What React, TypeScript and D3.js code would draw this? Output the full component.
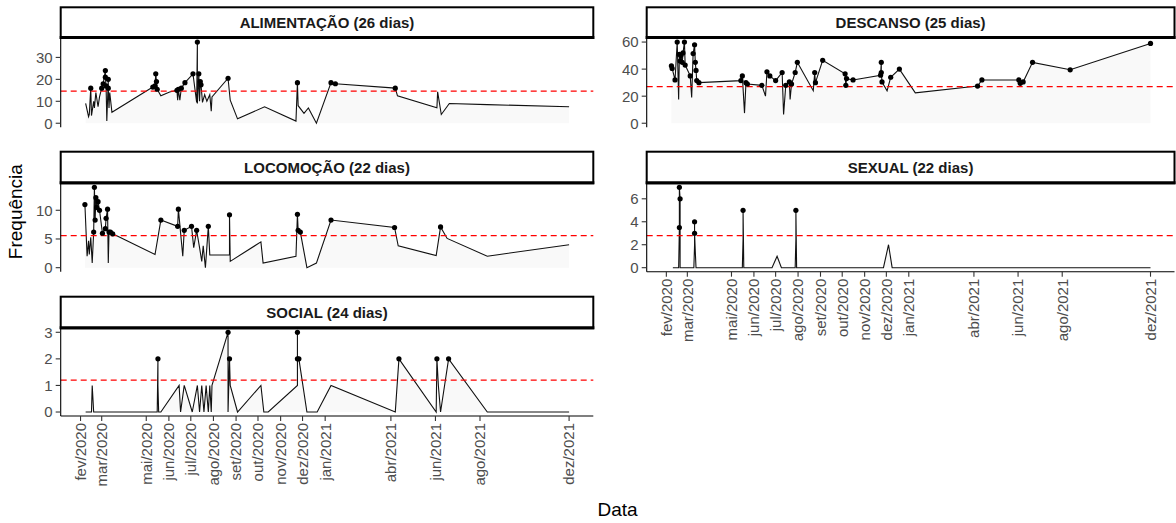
import React from "react";
import * as d3 from "d3";

const tickDates = ["2020-02-01","2020-03-01","2020-05-01","2020-06-01","2020-07-01","2020-08-01","2020-09-01","2020-10-01","2020-11-01","2020-12-01","2021-01-01","2021-04-01","2021-06-01","2021-08-01","2021-12-01"];
const tickLabels = ["fev/2020","mar/2020","mai/2020","jun/2020","jul/2020","ago/2020","set/2020","out/2020","nov/2020","dez/2020","jan/2021","abr/2021","jun/2021","ago/2021","dez/2021"];

const panelTitles = ["ALIMENTAÇÃO (26 dias)","DESCANSO (25 dias)","LOCOMOÇÃO (22 dias)","SEXUAL (22 dias)","SOCIAL (24 dias)"];
const panelMeans = [14.6, 27, 5.6, 2.8, 1.2];
const yTicksAlim = [0, 10, 20, 30];
const yTicksDesc = [0, 20, 40, 60];
const yTicksLoco = [0, 5, 10];
const yTicksSex = [0, 2, 4, 6];
const yTicksSoc = [0, 1, 2, 3];

const alimDates = ["2020-02-08","2020-02-12","2020-02-13","2020-02-15","2020-02-16","2020-02-19","2020-02-20","2020-02-22","2020-02-25","2020-02-27","2020-03-01","2020-03-03","2020-03-06","2020-03-06","2020-03-07","2020-03-08","2020-03-10","2020-03-10","2020-03-11","2020-03-12","2020-03-15","2020-05-10","2020-05-13","2020-05-14","2020-05-15","2020-05-16","2020-05-21","2020-06-02","2020-06-12","2020-06-13","2020-06-14","2020-06-16","2020-06-18","2020-06-23","2020-07-04","2020-07-09","2020-07-10","2020-07-10","2020-07-12","2020-07-13","2020-07-14","2020-07-15","2020-07-17","2020-07-20","2020-07-23","2020-07-27","2020-07-29","2020-07-30","2020-08-21","2020-08-24","2020-09-03","2020-10-10","2020-11-22","2020-11-24","2020-11-25","2020-12-03","2020-12-09","2020-12-20","2021-01-09","2021-01-15","2021-04-07","2021-04-10","2021-06-03","2021-06-04","2021-06-09","2021-06-20","2021-08-11","2021-12-01"];
const alimValues = [9,3,4,16,3.5,10,7,14,7.5,12,16,18,24,21,17,1,20,16,7,14,5,16.5,17,22.5,19,15.5,12.5,14.2,15,10.5,15.5,10.5,16,18.5,22.5,9.5,37,9,22.5,10,19,17.5,9.5,13,10,13,5.5,12,20.5,10.5,2,7.5,1,18.5,8,4.5,7,0,18.5,18,16,12.5,7,14.3,4,9,8.5,7.5];

const descDates = ["2020-02-08","2020-02-09","2020-02-13","2020-02-16","2020-02-18","2020-02-19","2020-02-20","2020-02-21","2020-02-23","2020-02-24","2020-02-26","2020-02-27","2020-03-05","2020-03-07","2020-03-09","2020-03-11","2020-03-12","2020-03-13","2020-03-14","2020-03-17","2020-05-14","2020-05-16","2020-05-19","2020-05-21","2020-05-23","2020-06-12","2020-06-17","2020-06-19","2020-06-23","2020-07-01","2020-07-10","2020-07-12","2020-07-15","2020-07-20","2020-07-21","2020-07-23","2020-07-28","2020-07-31","2020-08-22","2020-08-24","2020-08-25","2020-09-04","2020-10-05","2020-10-06","2020-10-07","2020-10-16","2020-11-23","2020-11-24","2020-11-24","2020-11-25","2020-12-02","2020-12-07","2020-12-19","2021-01-10","2021-04-06","2021-04-12","2021-06-02","2021-06-04","2021-06-08","2021-06-21","2021-08-12","2021-12-01"];
const descValues = [42.5,40.5,32,60,17.5,51,46,50,45,52,60,43,35,19,51.5,58,45,39,31.5,30,31.5,35,7.5,30,29,28,20,38,35,31.5,37.5,6.5,28,30.5,17.5,29,37.5,45,24,37.5,30,46.5,36.5,28,33,32,35.5,45,37.5,30.5,24,34,40,22.5,27.5,32,32,29.5,30.5,45,39.5,59];

const locoDates = ["2020-02-07","2020-02-10","2020-02-12","2020-02-13","2020-02-15","2020-02-17","2020-02-19","2020-02-20","2020-02-21","2020-02-22","2020-02-23","2020-02-25","2020-02-27","2020-03-02","2020-03-06","2020-03-07","2020-03-09","2020-03-10","2020-03-11","2020-03-13","2020-03-16","2020-05-13","2020-05-21","2020-06-13","2020-06-14","2020-06-20","2020-06-22","2020-07-02","2020-07-05","2020-07-09","2020-07-11","2020-07-13","2020-07-16","2020-07-18","2020-07-21","2020-07-25","2020-07-27","2020-08-23","2020-08-23","2020-08-24","2020-10-05","2020-10-08","2020-11-22","2020-11-24","2020-11-25","2020-11-28","2020-12-07","2020-12-20","2021-01-09","2021-04-06","2021-04-11","2021-06-02","2021-06-08","2021-06-17","2021-08-11","2021-12-01"];
const locoValues = [11,2,4.7,2.3,5.3,0.8,6.2,14,8.3,12.2,10.5,11.5,10,6,6.8,8.6,10.2,0.8,6.2,6.2,5.9,2.3,8.3,7.2,10.2,2,6.5,7.2,3.5,6.5,5,3.5,1.1,3.8,0,7.2,2.2,2.2,9.2,1.1,4.5,0.8,2,9.3,6.5,6.2,0,0.8,8.3,7,3.8,2.1,7.1,5.1,2,4];

const sexDates = ["2020-02-10","2020-02-18","2020-02-19","2020-02-19","2020-02-20","2020-02-20","2020-03-10","2020-03-11","2020-03-11","2020-03-11","2020-03-12","2020-03-13","2020-05-16","2020-05-17","2020-05-17","2020-05-18","2020-06-26","2020-07-03","2020-07-09","2020-07-28","2020-07-29","2020-07-29","2020-07-30","2020-11-27","2020-12-04","2020-12-09","2021-12-01"];
const sexValues = [0,0,3.5,7,6,0,0,2,4,3,1.4,0,0,2.5,5,0,0,1,0,0,2.5,5,0,0,2,0,0];

const socDates = ["2020-02-08","2020-02-16","2020-02-17","2020-02-19","2020-05-16","2020-05-17","2020-05-17","2020-05-18","2020-05-21","2020-06-15","2020-06-17","2020-06-22","2020-07-03","2020-07-10","2020-07-13","2020-07-16","2020-07-19","2020-07-22","2020-07-25","2020-07-27","2020-07-29","2020-07-30","2020-08-21","2020-08-21","2020-08-23","2020-08-24","2020-09-03","2020-10-05","2020-10-09","2020-10-15","2020-11-24","2020-11-24","2020-11-24","2020-11-26","2020-12-07","2020-12-21","2021-01-09","2021-04-07","2021-04-12","2021-06-02","2021-06-03","2021-06-05","2021-06-08","2021-06-19","2021-08-11","2021-12-01"];
const socValues = [0,0,1,0,0,2,1,0,0,1,0,1,0,1,0,1,0,1,0,1,0,1,3,0,2,1,0,1,0,0,1,3,2,2,0,0,1,0,2,0,2,1,0,2,0,0];

const parse = d3.timeParse("%Y-%m-%d");
const FONT = "'Liberation Sans', Arial, Helvetica, sans-serif";

const colLeft: [number, number] = [60.7, 593.3];
const colRight: [number, number] = [646.7, 1174.5];
const rows = [
  { top: 7.3, stripBottom: 38, bottom: 127.3 },
  { top: 151.7, stripBottom: 183.3, bottom: 271.7 },
  { top: 296.7, stripBottom: 328.3, bottom: 416 },
];

type Pt = { date: Date; value: number };

const allDates = [...alimDates, ...descDates, ...locoDates, ...sexDates, ...socDates].map((s) => parse(s)!);
const [dMin, dMax] = d3.extent(allDates) as [Date, Date];
const span = +dMax - +dMin;
const xDomain = [new Date(+dMin - span * 0.05), new Date(+dMax + span * 0.05)];

const panels = [
  { title: panelTitles[0], mean: panelMeans[0], dates: alimDates, values: alimValues, ticks: yTicksAlim, col: colLeft, row: rows[0], xAxis: false },
  { title: panelTitles[1], mean: panelMeans[1], dates: descDates, values: descValues, ticks: yTicksDesc, col: colRight, row: rows[0], xAxis: false },
  { title: panelTitles[2], mean: panelMeans[2], dates: locoDates, values: locoValues, ticks: yTicksLoco, col: colLeft, row: rows[1], xAxis: false },
  { title: panelTitles[3], mean: panelMeans[3], dates: sexDates, values: sexValues, ticks: yTicksSex, col: colRight, row: rows[1], xAxis: true },
  { title: panelTitles[4], mean: panelMeans[4], dates: socDates, values: socValues, ticks: yTicksSoc, col: colLeft, row: rows[2], xAxis: true },
];

function Panel({ p }: { p: (typeof panels)[number] }) {
  const data: Pt[] = p.dates.map((d, i) => ({ date: parse(d)!, value: p.values[i] }));
  const x = d3.scaleTime().domain(xDomain).range(p.col);
  const vmax = d3.max(data, (d) => d.value)!;
  const y = d3.scaleLinear().domain([-0.05 * vmax, vmax * 1.05]).range([p.row.bottom, p.row.stripBottom]);
  const line = d3.line<Pt>().x((d) => x(d.date)).y((d) => y(d.value));
  const area = d3.area<Pt>().x((d) => x(d.date)).y0(y(0)).y1((d) => y(d.value));
  const [x0, x1] = p.col;
  const { top, stripBottom, bottom } = p.row;
  const tdates = tickDates.map((s) => parse(s)!);
  return (
    <g>
      <path d={area(data)!} fill="#f9f9f9" stroke="none" />
      <path d={line(data)!} fill="none" stroke="#111" strokeWidth={1.1} />
      <line x1={x0} x2={x1} y1={y(p.mean)} y2={y(p.mean)} stroke="#ff0000" strokeWidth={1.3} strokeDasharray="6,4" />
      {data.filter((d) => d.value > p.mean).map((d, i) => (
        <circle key={i} cx={x(d.date)} cy={y(d.value)} r={2.6} fill="#000" />
      ))}
      <line x1={x0} x2={x0} y1={stripBottom} y2={bottom} stroke="#000" strokeWidth={1.1} />
      {p.ticks.map((t) => (
        <g key={t}>
          <line x1={x0 - 5} x2={x0} y1={y(t)} y2={y(t)} stroke="#333" strokeWidth={1.1} />
          <text x={x0 - 8} y={y(t)} dy="0.36em" textAnchor="end" fontSize={15} fill="#4d4d4d" fontFamily={FONT}>{t}</text>
        </g>
      ))}
      {p.xAxis && (
        <g>
          <line x1={x0} x2={x1} y1={bottom} y2={bottom} stroke="#000" strokeWidth={1.1} />
          {tdates.map((t, i) => (
            <g key={i}>
              <line x1={x(t)} x2={x(t)} y1={bottom} y2={bottom + 5} stroke="#333" strokeWidth={1.1} />
              <text transform={`translate(${x(t)},${bottom + 7}) rotate(-90)`} textAnchor="end" dy="0.36em" fontSize={15} fill="#4d4d4d" fontFamily={FONT}>{tickLabels[i]}</text>
            </g>
          ))}
        </g>
      )}
      <rect x={x0} y={top} width={x1 - x0} height={stripBottom - top} fill="#fff" stroke="#000" strokeWidth={2} />
      <line x1={x0 - 1} x2={x1 + 1} y1={stripBottom - 0.5} y2={stripBottom - 0.5} stroke="#000" strokeWidth={3} />
      <text x={(x0 + x1) / 2} y={(top + stripBottom) / 2} dy="0.36em" textAnchor="middle" fontSize={15} fontWeight="bold" fill="#1a1a1a" fontFamily={FONT}>{p.title}</text>
    </g>
  );
}

export default function App() {
  return (
    <svg width={1176} height={523} style={{ position: "absolute", left: 0, top: 0, background: "#fff" }}>
      <rect x={0} y={0} width={1176} height={523} fill="#fff" />
      {panels.map((p, i) => <Panel key={i} p={p} />)}
      <text transform={`translate(22,${(rows[0].top + rows[2].bottom) / 2}) rotate(-90)`} textAnchor="middle" fontSize={19} fill="#000" fontFamily={FONT}>Frequência</text>
      <text x={(colLeft[0] + colRight[1]) / 2} y={516} textAnchor="middle" fontSize={19} fill="#000" fontFamily={FONT}>Data</text>
    </svg>
  );
}
